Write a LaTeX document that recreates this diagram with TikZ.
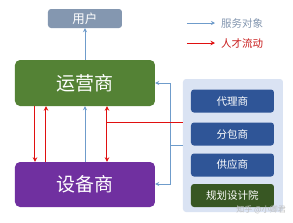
\documentclass[tikz,border=0pt]{standalone}
\usepackage{fontspec}
\newfontfamily\cjk{Noto Sans CJK SC}
\usetikzlibrary{arrows.meta}
\definecolor{usergray}{HTML}{8497B0}
\definecolor{opgreen}{HTML}{548235}
\definecolor{eqpurple}{HTML}{7030A0}
\definecolor{panelbg}{HTML}{DAE3F3}
\definecolor{darkblue}{HTML}{2F5597}
\definecolor{darkgreen}{HTML}{385723}
\definecolor{svcblue}{HTML}{6F9CCB}
\definecolor{talred}{HTML}{E01010}
\definecolor{legred}{HTML}{C81818}
\tikzset{
  box/.style={rounded corners=3pt, text=white, inner sep=0pt, font=\cjk},
  subbox/.style={box, minimum width=83pt, minimum height=23pt, font=\cjk\fontsize{10.5}{12}\selectfont},
  svc/.style={draw=svcblue, line width=0.9pt, -{Stealth[length=4pt,width=4pt]}},
  tal/.style={draw=talred, line width=1pt, -{Stealth[length=4.5pt,width=4.5pt]}},
}
\begin{document}
\begin{tikzpicture}[x=1pt,y=-1pt]
\useasboundingbox (0,0) rectangle (293,223);
\fill[white] (0,0) rectangle (293,223);
% panel
\node[fill=panelbg, rounded corners=3pt, minimum width=100pt, minimum height=133pt, inner sep=0pt] (panel) at (233,145.5) {};
% boxes
\node[box, fill=usergray, minimum width=74pt, minimum height=19pt, font=\cjk\fontsize{12.5}{14}\selectfont] (user) at (85,18.5) {用户};
\node[box, fill=opgreen, minimum width=140pt, minimum height=46pt, rounded corners=5pt, font=\cjk\fontsize{19}{22}\selectfont] (op) at (85,83) {运营商};
\node[box, fill=eqpurple, minimum width=140pt, minimum height=45pt, rounded corners=5pt, font=\cjk\fontsize{19}{22}\selectfont] (eq) at (85,184.5) {设备商};
\node[subbox, fill=darkblue] (agent) at (232.5,101) {代理商};
\node[subbox, fill=darkblue] (sub) at (232.5,134) {分包商};
\node[subbox, fill=darkblue] (supp) at (232.5,165) {供应商};
\node[subbox, fill=darkgreen] (plan) at (232.5,195.5) {规划设计院};
% legend
\coordinate (l1a) at (187,23); \coordinate (l1b) at (215,23);
\coordinate (l2a) at (187,43); \coordinate (l2b) at (215,43);
\draw[svc] (l1a) -- (l1b);
\draw[tal] (l2a) -- (l2b);
\node[anchor=west, text=usergray, font=\cjk\fontsize{10.5}{12}\selectfont, inner sep=0pt] (lt1) at (221,23) {服务对象};
\node[anchor=west, text=legred, font=\cjk\fontsize{10.5}{12}\selectfont, inner sep=0pt] (lt2) at (221,43) {人才流动};
% service arrows
\draw[svc] (op.north) -- (user.south);
\draw[svc] (eq.north) -- (op.south);
\coordinate (bj) at (170,145);
\draw[draw=svcblue, line width=0.9pt] (panel.west |- bj) -- (bj);
\draw[svc] (bj) |- (op.east |- 0,83);
\draw[svc] (bj) |- (eq.east |- 0,184);
% talent arrows
\draw[tal] (op.south -| 35,0) -- (eq.north -| 35,0);
\draw[tal] (eq.north -| 46,0) -- (op.south -| 46,0);
\draw[tal, {Stealth[length=4.5pt,width=4.5pt]}-{Stealth[length=4.5pt,width=4.5pt]}] (op.south -| 107,0) -- (eq.north -| 107,0);
\coordinate (rj) at (107,122);
\draw[draw=talred, line width=1pt] (rj) -- (panel.west |- rj);
% watermark
\node[anchor=east, text=gray!50, font=\cjk\fontsize{8}{10}\selectfont, inner sep=0pt] (wm) at (286,210) {知乎 @小卿君};
\end{tikzpicture}
\end{document}
